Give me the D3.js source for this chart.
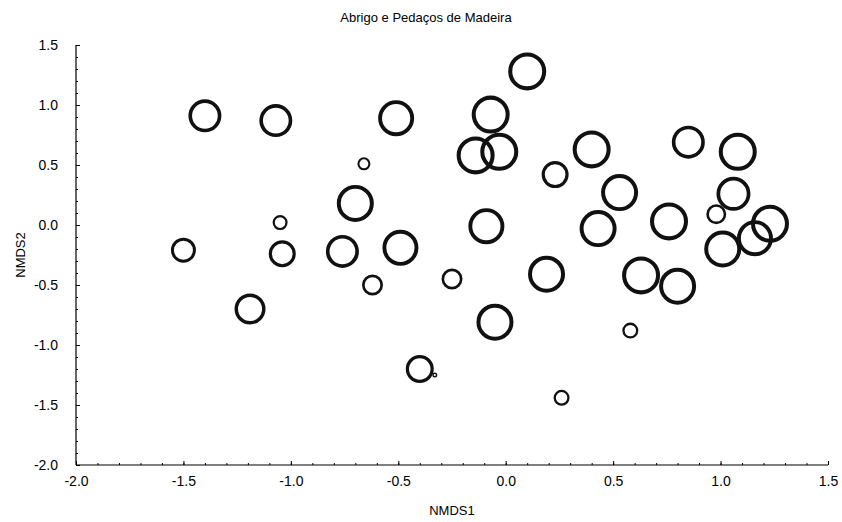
<!DOCTYPE html>
<html>
<head>
<meta charset="utf-8">
<script src="https://cdn.jsdelivr.net/npm/d3@7"></script>
<style>
  html, body { margin: 0; padding: 0; background: #fff; }
  svg { display: block; }
  text { font-family: "Liberation Sans", Arial, sans-serif; fill: #000; }
</style>
</head>
<body>
<svg id="chart" width="842" height="522"></svg>
<script>
// ---- data ----
const title = "Abrigo e Pedaços de Madeira";
const xLabel = "NMDS1";
const yLabel = "NMDS2";
const xTicks = [-2.0, -1.5, -1.0, -0.5, 0.0, 0.5, 1.0, 1.5];
const yTicks = [-2.0, -1.5, -1.0, -0.5, 0.0, 0.5, 1.0, 1.5];

const nmds1 = [-1.40, -1.07, -0.51, -0.66, 0.10, -0.07, -0.14, -0.03, 0.40, 0.85,
               1.08, 0.23, 0.53, -0.70, -1.05, -0.09, 0.43, 0.76, 1.06, 0.98,
               1.01, 1.16, 1.23, -1.50, -1.04, -0.76, -0.49, -0.62, -0.25, 0.19,
               0.63, 0.80, -1.19, -0.05, 0.58, -0.40, -0.33, 0.26];
const nmds2 = [0.91, 0.87, 0.89, 0.51, 1.28, 0.92, 0.58, 0.61, 0.63, 0.69,
               0.61, 0.42, 0.27, 0.18, 0.02, -0.01, -0.03, 0.03, 0.26, 0.09,
               -0.20, -0.11, 0.01, -0.21, -0.24, -0.22, -0.19, -0.50, -0.45, -0.41,
               -0.42, -0.51, -0.70, -0.81, -0.88, -1.20, -1.25, -1.44];
// bubble size variable (relative)
const bubbleSize = [33, 33, 36, 13, 38, 38, 38, 38, 38, 33,
                    38, 27, 37, 37, 15, 36, 37, 38, 34, 20,
                    37, 36, 38, 25, 27, 33, 36, 21, 21, 37,
                    38, 37, 31, 37, 16, 28, 5, 16];

// ---- layout ----
const svg = d3.select("#chart");
const mLeft = 76, mRight = 828, mTop = 45, mBottom = 465;

const x = d3.scaleLinear().domain([-2.0, 1.5]).range([mLeft, mRight]);
const y = d3.scaleLinear().domain([-2.0, 1.5]).range([mBottom, mTop]);
const dScale = d3.scaleLinear().domain([0, 38]).range([0, 38]); // outer diameter in px

const fmt = d => d.toFixed(1);
const minorX = d3.range(-2.0, 1.5001, 0.1);
const minorY = d3.range(-2.0, 1.5001, 0.1);

// x axis
const gx = svg.append("g").attr("transform", `translate(0,${mBottom})`);
gx.call(d3.axisBottom(x).tickValues(minorX).tickSize(-2).tickFormat(""))
  .call(g => g.select(".domain").remove());
gx.append("g")
  .call(d3.axisBottom(x).tickValues(xTicks).tickSize(-4).tickPadding(11).tickFormat(fmt))
  .call(g => g.selectAll("text").attr("font-size", 14).attr("font-family", "Liberation Sans, Arial, sans-serif").attr("fill", "#000"))
  .call(g => g.select(".domain").attr("d", `M${mLeft},0H${mRight}`).attr("stroke", "#000").attr("stroke-width", 1.2));
gx.selectAll("line").attr("stroke", "#000");

// y axis
const gy = svg.append("g").attr("transform", `translate(${mLeft},0)`);
gy.call(d3.axisLeft(y).tickValues(minorY).tickSize(-2).tickFormat(""))
  .call(g => g.select(".domain").remove());
gy.append("g")
  .call(d3.axisLeft(y).tickValues(yTicks).tickSize(-4).tickPadding(18).tickFormat(fmt))
  .call(g => g.selectAll("text").attr("font-size", 14).attr("font-family", "Liberation Sans, Arial, sans-serif").attr("fill", "#000"))
  .call(g => g.select(".domain").attr("d", `M0,${mTop}V${mBottom}`).attr("stroke", "#000").attr("stroke-width", 1.2));
gy.selectAll("line").attr("stroke", "#000");

// bubbles
const pts = nmds1.map((v, i) => ({ x: v, y: nmds2[i], s: bubbleSize[i] }));
svg.append("g").selectAll("circle").data(pts).join("circle")
  .attr("cx", d => x(d.x))
  .attr("cy", d => y(d.y))
  .each(function(d) {
    const dia = dScale(d.s);
    const sw = 1 + dia * 0.08;
    d3.select(this).attr("r", Math.max(0.5, dia / 2 - sw / 2)).attr("stroke-width", sw);
  })
  .attr("fill", "none")
  .attr("stroke", "#111");

// title & labels
svg.append("text").attr("x", 426).attr("y", 22).attr("text-anchor", "middle")
  .attr("font-size", 13).text(title);
svg.append("text").attr("x", (mLeft + mRight) / 2).attr("y", 515).attr("text-anchor", "middle")
  .attr("font-size", 13).text(xLabel);
svg.append("text").attr("transform", `translate(25,${(mTop + mBottom) / 2}) rotate(-90)`)
  .attr("text-anchor", "middle").attr("font-size", 13).text(yLabel);
</script>
</body>
</html>
